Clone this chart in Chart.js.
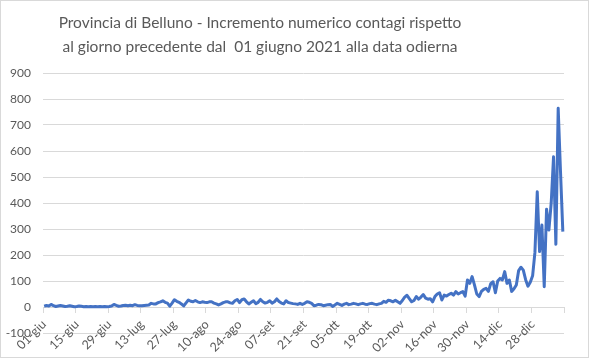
<!DOCTYPE html>
<html>
<head>
<meta charset="utf-8">
<script src="https://cdn.jsdelivr.net/npm/chart.js@4/dist/chart.umd.min.js"></script>
<style>
  html, body { margin: 0; padding: 0; background: #ffffff; }
  #wrap { width: 589px; height: 358px; }
</style>
</head>
<body>
<div id="wrap"><canvas id="c" width="589" height="358"></canvas></div>
<script>
// ---- data ----
const titleLines = [
  'Provincia di Belluno - Incremento numerico contagi rispetto',
  'al giorno precedente dal  01 giugno 2021 alla data odierna'
];
const startDate = [2021, 5, 1]; // 01 giugno 2021 (month 0-based)
const monthNames = ['gen','feb','mar','apr','mag','giu','lug','ago','set','ott','nov','dic'];
const tickLabels = ['01-giu','15-giu','29-giu','13-lug','27-lug','10-ago','24-ago','07-set',
                    '21-set','05-ott','19-ott','02-nov','16-nov','30-nov','14-dic','28-dic'];
const tickEvery = 14;
const yTicks = [-100, 0, 100, 200, 300, 400, 500, 600, 700, 800, 900];

// daily increments, 01-giu-2021 .. 10-gen-2022
const increments = [
  3, 6, 4, 10, 5, 2, 4, 6, 4, 2, 3, 5, 3, 1,
  2, 4, 3, 1, 2, 1, 2, 1, 2, 1, 2, 1, 2, 1,
  2, 4, 10, 6, 3, 4, 6, 7, 5, 7, 5, 9, 6, 5,
  5, 6, 7, 8, 14, 12, 12, 17, 20, 24, 18, 15, 3, 15,
  28, 22, 18, 12, 4, 16, 27, 22, 20, 25, 20, 17, 20, 18,
  17, 20, 20, 15, 12, 8, 12, 17, 20, 20, 16, 14, 24, 29,
  17, 28, 31, 20, 12, 18, 24, 13, 18, 29, 20, 15, 18, 24,
  15, 20, 31, 21, 15, 12, 24, 17, 15, 13, 12, 10, 14, 10,
  14, 20, 18, 14, 5, 7, 10, 9, 5, 7, 9, 10, 2, 8,
  14, 10, 6, 11, 14, 9, 11, 14, 12, 9, 12, 14, 11, 10,
  13, 14, 11, 9, 12, 14, 22, 18, 26, 24, 20, 26, 20, 14,
  25, 38, 45, 32, 20, 25, 40, 30, 38, 48, 34, 30, 32, 20,
  40, 50, 55, 27, 46, 42, 48, 53, 46, 59, 50, 55, 59, 42,
  104, 91, 117, 85, 50, 40, 60, 68, 72, 60, 90, 97, 55, 100,
  110, 104, 136, 91, 104, 60, 70, 85, 140, 153, 142, 105, 80, 95,
  120, 210, 443, 213, 315, 78, 376, 296, 400, 578, 241, 764, 520, 290
];

// category labels (one per day)
const categories = increments.map((_, i) => {
  const d = new Date(startDate[0], startDate[1], startDate[2] + i);
  return String(d.getDate()).padStart(2, '0') + '-' + monthNames[d.getMonth()];
});

const FONT = 'Lato, "Open Sans", sans-serif';
const TXT = '#595959';
const GRID = '#d9d9d9';

const bgBorder = {
  id: 'bgBorder',
  beforeDraw(chart) {
    const c = chart.ctx;
    c.save();
    c.fillStyle = '#ffffff';
    c.fillRect(0, 0, chart.width, chart.height);
    c.restore();
  },
  afterDraw(chart) {
    const c = chart.ctx;
    c.save();
    c.strokeStyle = GRID;
    c.lineWidth = 1;
    c.strokeRect(0.5, 0.5, chart.width - 1, chart.height - 1);
    // title
    c.fillStyle = TXT;
    c.font = '15.5px ' + FONT;
    c.textAlign = 'center';
    c.textBaseline = 'middle';
    c.fillText(titleLines[0], 260, 23);
    c.fillText(titleLines[1], 260, 47);
    c.restore();
  }
};

new Chart(document.getElementById('c'), {
  type: 'line',
  data: {
    labels: categories,
    datasets: [{
      data: increments,
      borderColor: '#4472C4',
      borderWidth: 3,
      pointRadius: 0,
      tension: 0,
      borderJoinStyle: 'round',
      fill: false
    }]
  },
  options: {
    responsive: false,
    animation: false,
    layout: { padding: { left: 0, right: 25, top: 73, bottom: 25 } },
    plugins: {
      legend: { display: false },
      tooltip: { enabled: false },
      title: { display: false }
    },
    scales: {
      x: {
        type: 'category',
        position: { y: 0 },
        offset: true,
        grid: {
          offset: true,
          drawOnChartArea: false,
          drawTicks: true,
          tickLength: 5,
          color: (ctx) => (ctx.type !== 'tick' || ctx.index % tickEvery === 0) ? GRID : 'rgba(0,0,0,0)'
        },
        border: { display: true, color: GRID, width: 1 },
        ticks: {
          autoSkip: false,
          minRotation: 45,
          maxRotation: 45,
          padding: 5,
          color: TXT,
          font: { family: FONT, size: 12.5 },
          callback: (val, idx) => (idx % tickEvery === 0 ? tickLabels[idx / tickEvery] || '' : '')
        }
      },
      y: {
        min: yTicks[0],
        max: yTicks[yTicks.length - 1],
        afterBuildTicks: (scale) => { scale.ticks = yTicks.map(v => ({ value: v })); },
        afterFit: (scale) => { scale.width = 43; },
        grid: { color: GRID, drawTicks: false, lineWidth: 1 },
        border: { display: false },
        ticks: {
          padding: 12,
          color: TXT,
          font: { family: FONT, size: 12 }
        }
      }
    }
  },
  plugins: [bgBorder]
});
</script>
</body>
</html>
